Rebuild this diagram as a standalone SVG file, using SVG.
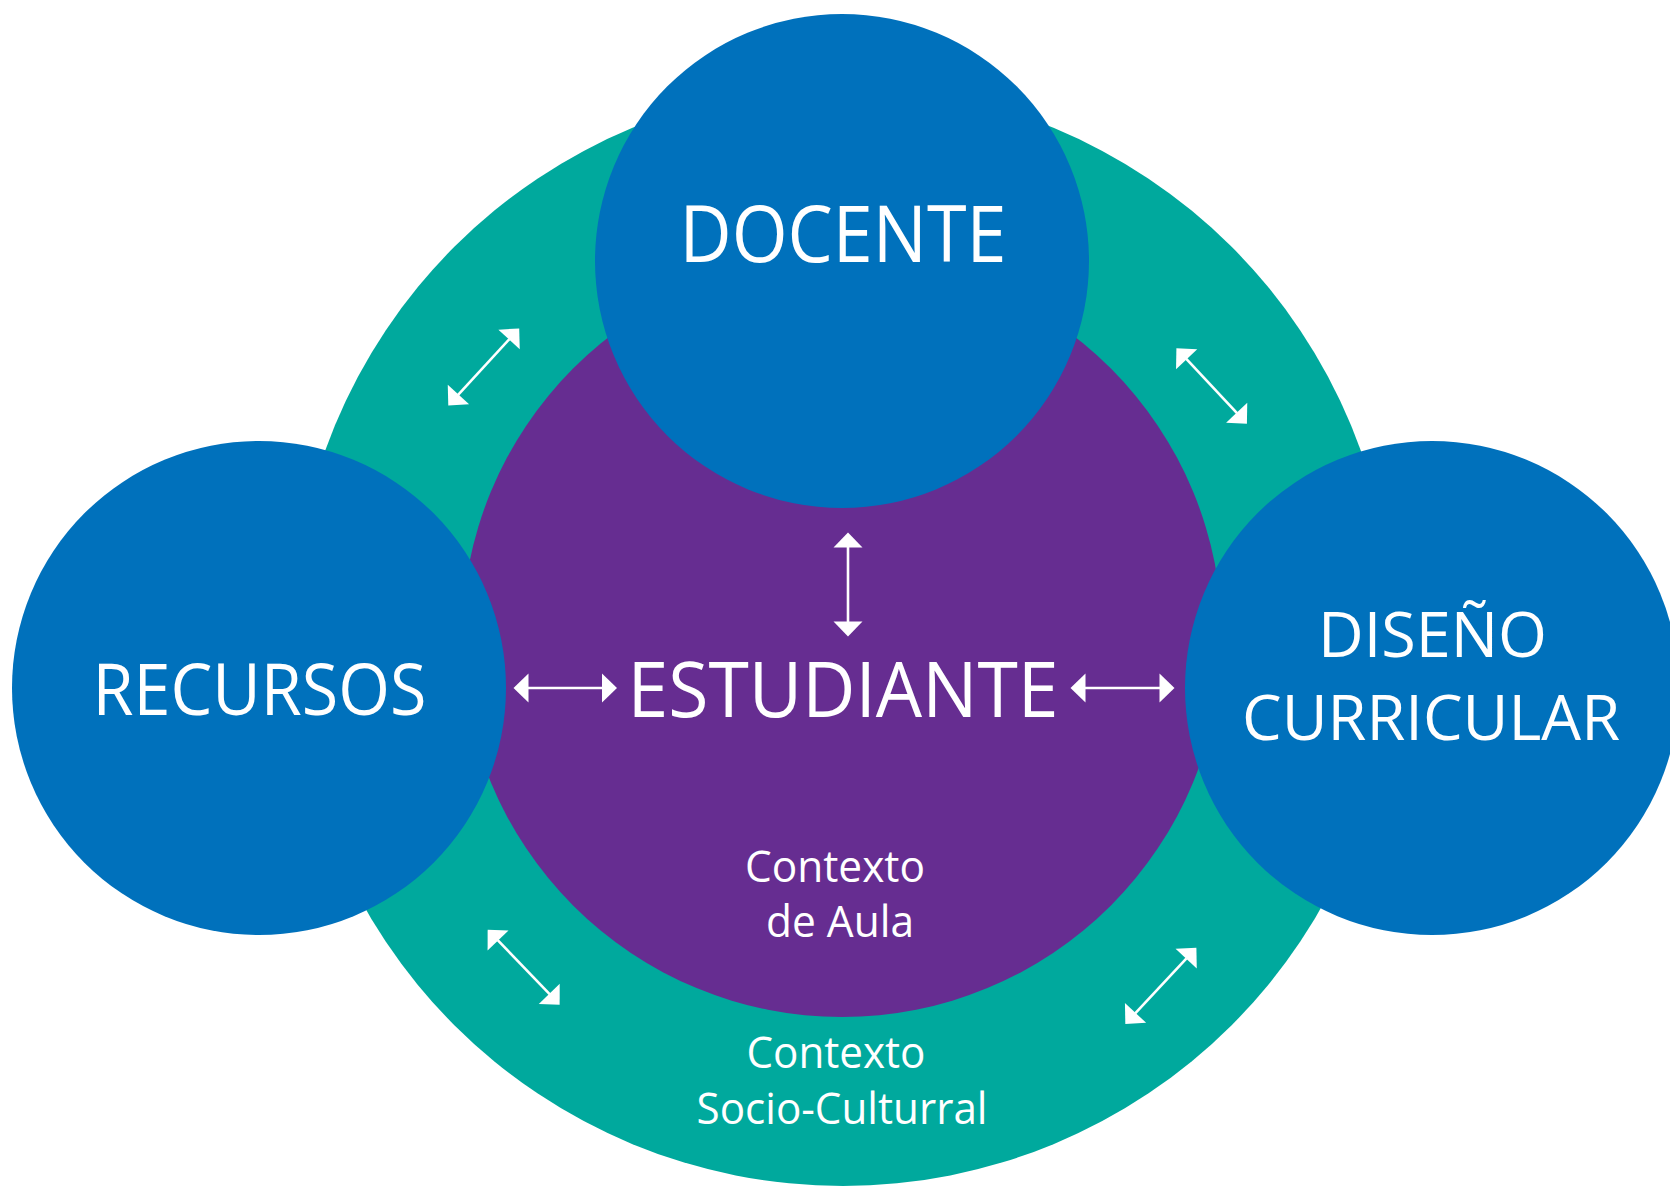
<svg xmlns="http://www.w3.org/2000/svg" width="1670" height="1187" viewBox="0 0 1670 1187">
<defs>
<style>
.teal{fill:#00A99D}
.purple{fill:#662D91}
.blue{fill:#0071BC}
text{fill:#FFFFFF;font-family:"Open Sans","Noto Sans","DejaVu Sans",sans-serif;text-anchor:middle}
.conn line{stroke:#FFFFFF;stroke-width:2.6;marker-start:url(#ah);marker-end:url(#ah)}
</style>
<marker id="ah" markerUnits="userSpaceOnUse" markerWidth="16" markerHeight="30" refX="0.5" refY="14.5" orient="auto-start-reverse" overflow="visible">
<path d="M0,0 L15,14.5 L0,29 Z" fill="#FFFFFF"/>
</marker>
</defs>
<rect width="1670" height="1187" fill="#FFFFFF"/>
<g id="contexto-sociocultural">
<circle class="teal" cx="843" cy="636" r="550"/>
<text x="836" y="1068" font-size="44" textLength="179" lengthAdjust="spacingAndGlyphs">Contexto</text>
<text x="842" y="1124" font-size="44" textLength="291" lengthAdjust="spacingAndGlyphs">Socio-Culturral</text>
</g>
<g id="estudiante">
<circle class="purple" cx="842" cy="637" r="380"/>
<text x="843" y="717" font-size="76" textLength="431" lengthAdjust="spacingAndGlyphs">ESTUDIANTE</text>
<text x="835" y="882" font-size="44" textLength="180" lengthAdjust="spacingAndGlyphs">Contexto</text>
<text x="840" y="937" font-size="44" textLength="148" lengthAdjust="spacingAndGlyphs">de Aula</text>
</g>
<g id="docente">
<circle class="blue" cx="842" cy="261" r="247"/>
<text x="843" y="261.5" font-size="78" textLength="327" lengthAdjust="spacingAndGlyphs">DOCENTE</text>
</g>
<g id="recursos">
<circle class="blue" cx="259" cy="688" r="247"/>
<text x="259.5" y="715" font-size="71" textLength="334" lengthAdjust="spacingAndGlyphs">RECURSOS</text>
</g>
<g id="diseno-curricular">
<circle class="blue" cx="1432" cy="688" r="247"/>
<text x="1432.5" y="657" font-size="63" textLength="229" lengthAdjust="spacingAndGlyphs">DISEÑO</text>
<text x="1431" y="740" font-size="62" textLength="378" lengthAdjust="spacingAndGlyphs">CURRICULAR</text>
</g>
<g id="connectors" class="conn">
<line x1="848" y1="547" x2="848" y2="622"/>
<line x1="528" y1="688" x2="602.5" y2="688"/>
<line x1="1085" y1="688" x2="1160" y2="688"/>
<line x1="509.4" y1="339.1" x2="458.1" y2="394.9"/>
<line x1="1186.3" y1="358.9" x2="1237" y2="413.1"/>
<line x1="497.7" y1="940.1" x2="549.6" y2="994.2"/>
<line x1="1186.5" y1="958.3" x2="1135.2" y2="1013.3"/>
</g>
</svg>
